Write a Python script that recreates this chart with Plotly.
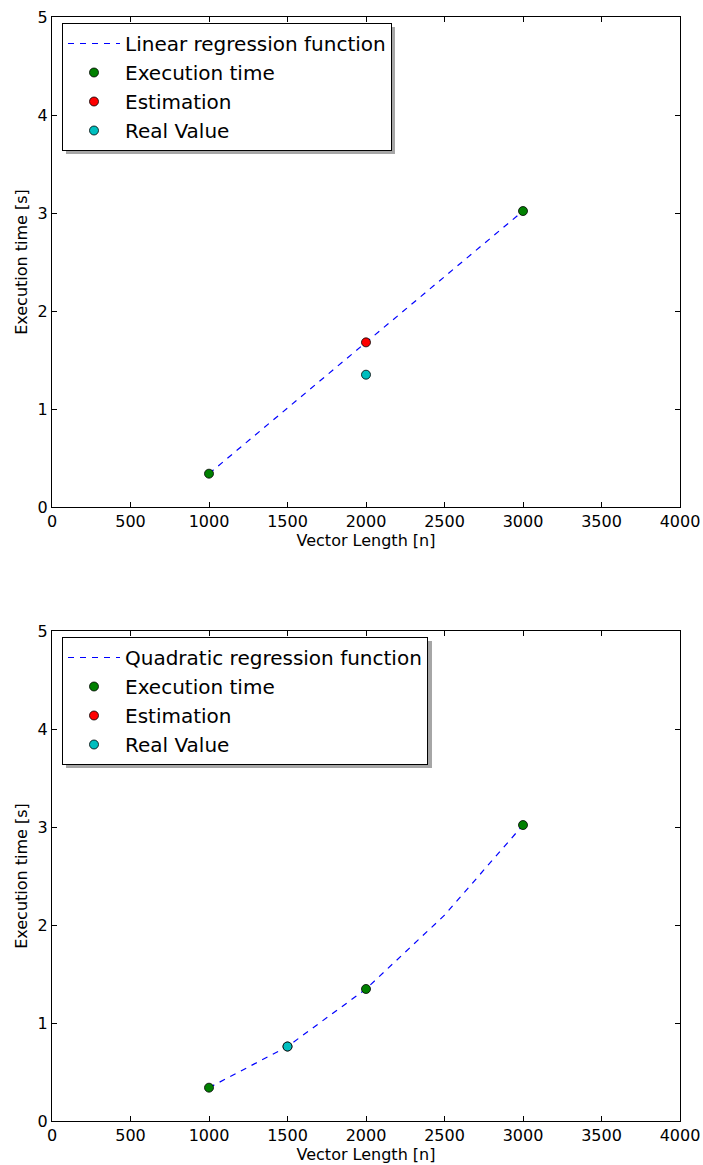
import plotly.graph_objects as go
from plotly.subplots import make_subplots

# ---- data ----
lin_fit_x = [1000, 2000, 3000]
lin_fit_y = [0.34, 1.68, 3.02]
lin_exec_x = [1000, 3000]
lin_exec_y = [0.34, 3.02]
lin_est_x = [2000]
lin_est_y = [1.68]
lin_real_x = [2000]
lin_real_y = [1.35]

quad_fit_x = [1000, 1500, 2000, 2500, 3000]
quad_fit_y = [0.34, 0.76, 1.347, 2.10, 3.02]
quad_exec_x = [1000, 2000, 3000]
quad_exec_y = [0.34, 1.347, 3.02]
quad_est_x = [1500]
quad_est_y = [0.76]
quad_real_x = [1500]
quad_real_y = [0.76]

x_ticks = [0, 500, 1000, 1500, 2000, 2500, 3000, 3500, 4000]
y_ticks = [0, 1, 2, 3, 4, 5]

FONT = "DejaVu Sans"
GREEN = "#008000"
RED = "#ff0000"
CYAN = "#00bfbf"
BLUE = "#0000ff"

fig = make_subplots(rows=2, cols=1, vertical_spacing=124 / 1104)

def add_panel(row, legend, fit_name, fx, fy, ex, ey, sx, sy, rx, ry):
    mk = dict(size=9, line=dict(color="black", width=0.8))
    fig.add_trace(go.Scatter(x=fx, y=fy, mode="lines", name=fit_name,
                             line=dict(color=BLUE, width=1.2, dash="6px,6px"),
                             legend=legend), row=row, col=1)
    fig.add_trace(go.Scatter(x=ex, y=ey, mode="markers", name="Execution time",
                             marker=dict(color=GREEN, **mk), legend=legend), row=row, col=1)
    fig.add_trace(go.Scatter(x=sx, y=sy, mode="markers", name="Estimation",
                             marker=dict(color=RED, **mk), legend=legend), row=row, col=1)
    fig.add_trace(go.Scatter(x=rx, y=ry, mode="markers", name="Real Value",
                             marker=dict(color=CYAN, **mk), legend=legend), row=row, col=1)

add_panel(1, "legend", "Linear regression function", lin_fit_x, lin_fit_y,
          lin_exec_x, lin_exec_y, lin_est_x, lin_est_y, lin_real_x, lin_real_y)
add_panel(2, "legend2", "Quadratic regression function", quad_fit_x, quad_fit_y,
          quad_exec_x, quad_exec_y, quad_est_x, quad_est_y, quad_real_x, quad_real_y)

axis_common = dict(showgrid=False, zeroline=False, showline=True, linecolor="black",
                   linewidth=1, mirror="ticks", ticks="inside", ticklen=5,
                   tickcolor="black", automargin=False,
                   tickfont=dict(family=FONT, size=16, color="black"))

for r in (1, 2):
    fig.update_xaxes(range=[0, 4000], tickvals=x_ticks,
                     title=dict(text="Vector Length [n]", standoff=2,
                                font=dict(family=FONT, size=16, color="black")),
                     row=r, col=1, **axis_common)
    fig.update_yaxes(range=[0, 5], tickvals=y_ticks,
                     title=dict(text="Execution time [s]", standoff=6,
                                font=dict(family=FONT, size=16, color="black")),
                     row=r, col=1, **axis_common)

leg_common = dict(xanchor="left", yanchor="top", bgcolor="white", bordercolor="black",
                  borderwidth=1, font=dict(family=FONT, size=20, color="black"),
                  itemwidth=52, tracegroupgap=0)

def px_x(p):
    return (p - 52) / 628

def px_y(p):
    return 1 - (p - 17) / 1104

fig.update_layout(
    width=703, height=1165,
    margin=dict(l=52, r=23, t=17, b=44),
    paper_bgcolor="white", plot_bgcolor="white",
    font=dict(family=FONT, color="black"),
    legend=dict(x=px_x(62), y=px_y(23), **leg_common),
    legend2=dict(x=px_x(62), y=px_y(637), **leg_common),
)

# legend shadows (decoration)
for (x0, y0, x1, y1) in [(66, 27, 395, 154), (66, 641, 432, 768)]:
    fig.add_shape(type="rect", xref="paper", yref="paper",
                  x0=px_x(x0), x1=px_x(x1), y0=px_y(y1), y1=px_y(y0),
                  fillcolor="#a6a6a6", line=dict(width=0), layer="above")

fig.write_html("out.html", config={"displayModeBar": False},
               post_script="document.body.style.margin='0';document.body.style.overflow='hidden';")
